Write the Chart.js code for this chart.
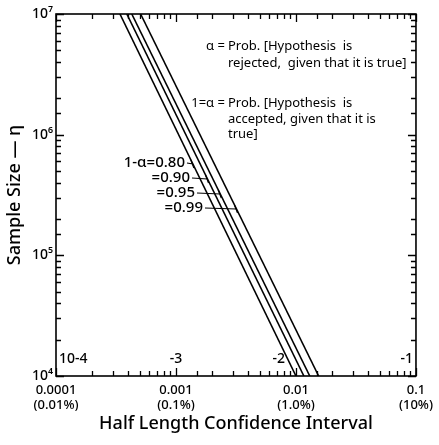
<!DOCTYPE html>
<html>
<head>
<meta charset="utf-8">
<script src="https://cdn.jsdelivr.net/npm/chart.js@4.4.1/dist/chart.umd.min.js"></script>
<style>
  html, body { margin: 0; padding: 0; background: #fff; }
  #wrap { width: 439px; height: 445px; position: relative; }
</style>
</head>
<body>
<div id="wrap"><canvas id="chart"></canvas></div>
<script>
/* Sample size vs half length of confidence interval, log-log */

const sampleSizes = [1e7, 1e4];
const half080 = [0.000341, 0.0100];
const half090 = [0.000389, 0.01164];
const half095 = [0.000428, 0.01303];
const half099 = [0.000507, 0.01545];

const confLabels = ['1-α=0.80', '=0.90', '=0.95', '=0.99'];

const xTickValues = [0.0001, 0.001, 0.01, 0.1];
const xTickLabels = [['0.0001', '(0.01%)'], ['0.001', '(0.1%)'], ['0.01', '(1.0%)'], ['0.1', '(10%)']];
const xExpLabels = ['10-4', '-3', '-2', '-1'];

const yTickValues = [1e4, 1e5, 1e6, 1e7];
const yTickLabels = ['10⁴', '10⁵', '10⁶', '10⁷'];

const FONT = '"Noto Sans", "DejaVu Sans", sans-serif';

function isDecade(v) {
  const l = Math.log10(v);
  return Math.abs(l - Math.round(l)) < 1e-6;
}

function findLabel(values, labels, v) {
  const i = values.findIndex(t => Math.abs(Math.log10(t) - Math.log10(v)) < 1e-6);
  return i >= 0 ? labels[i] : '';
}

function series(xs) {
  return xs.map((x, i) => ({ x: x, y: sampleSizes[i] }));
}

const seriesList = [half080, half090, half095, half099];

/* ticks inside the frame, on all four sides */
const frameTicks = {
  id: 'frameTicks',
  afterDraw(chart) {
    const { ctx, chartArea: a } = chart;
    const xs = chart.scales.x, ys = chart.scales.y;
    ctx.save();
    ctx.strokeStyle = '#000';
    ctx.lineWidth = 1.6;
    ctx.strokeRect(a.left, a.top, a.right - a.left, a.bottom - a.top);
    ctx.lineWidth = 1.3;
    ctx.beginPath();
    xs.ticks.forEach(t => {
      const px = Math.round(xs.getPixelForValue(t.value)) + 0.5;
      const len = isDecade(t.value) ? 8 : 5;
      ctx.moveTo(px, a.bottom); ctx.lineTo(px, a.bottom - len);
      ctx.moveTo(px, a.top); ctx.lineTo(px, a.top + len);
    });
    ys.ticks.forEach(t => {
      const py = Math.round(ys.getPixelForValue(t.value)) + 0.5;
      const len = isDecade(t.value) ? 8 : 5;
      ctx.moveTo(a.left, py); ctx.lineTo(a.left + len, py);
      ctx.moveTo(a.right, py); ctx.lineTo(a.right - len, py);
    });
    ctx.stroke();
    ctx.restore();
  }
};

/* text notes inside the plot */
const notes = {
  id: 'notes',
  afterDraw(chart) {
    const { ctx, chartArea: a } = chart;
    const xs = chart.scales.x;
    ctx.save();
    ctx.fillStyle = '#000';
    ctx.strokeStyle = '#000';
    ctx.textBaseline = 'middle';

    // decade exponents along the bottom
    ctx.font = '500 14px ' + FONT;
    xTickValues.forEach((v, i) => {
      const px = xs.getPixelForValue(v);
      if (i === 0) { ctx.textAlign = 'left'; ctx.fillText(xExpLabels[i], px + 3, a.bottom - 17); }
      else if (i === xTickValues.length - 1) { ctx.textAlign = 'right'; ctx.fillText(xExpLabels[i], px - 3, a.bottom - 17); }
      else if (i === 2) { ctx.textAlign = 'right'; ctx.fillText(xExpLabels[i], px - 11, a.bottom - 17); }
      else { ctx.textAlign = 'center'; ctx.fillText(xExpLabels[i], px, a.bottom - 17); }
    });

    // definitions
    ctx.font = '13px ' + FONT;
    ctx.textAlign = 'right';
    ctx.fillText('α =', 225, 46);
    ctx.fillText('1=α =', 225, 103);
    ctx.textAlign = 'left';
    ctx.fillText('Prob. [Hypothesis  is', 228, 46);
    ctx.fillText('rejected,  given that it is true]', 228, 63);
    ctx.fillText('Prob. [Hypothesis  is', 228, 103);
    ctx.fillText('accepted, given that it is', 228, 119);
    ctx.fillText('true]', 228, 134);

    // confidence level labels with leaders
    const labelPos = [[185, 163], [190, 178], [195, 193], [203, 208]];
    ctx.lineWidth = 1.2;
    seriesList.forEach((s, i) => {
      const pts = chart.getDatasetMeta(i).data;
      const [ex, ey] = labelPos[i];
      const ty = ey + 1;
      const p0 = pts[0], p1 = pts[1];
      const tx = p0.x + (p1.x - p0.x) * (ty - p0.y) / (p1.y - p0.y);
      ctx.textAlign = 'right';
      ctx.font = '500 15px ' + FONT;
      ctx.fillText(confLabels[i], ex, ey);
      ctx.beginPath();
      ctx.moveTo(ex + 2, ey);
      ctx.lineTo(tx, ty);
      ctx.moveTo(tx - 2, ty - 4);
      ctx.lineTo(tx + 1, ty + 4);
      ctx.stroke();
    });
    ctx.restore();
  }
};

const lineStyle = {
  showLine: true,
  borderColor: '#000',
  borderWidth: 1.6,
  pointRadius: 0,
  fill: false,
};

new Chart(document.getElementById('chart'), {
  type: 'scatter',
  data: {
    datasets: seriesList.map((s, i) => Object.assign({ label: confLabels[i], data: series(s) }, lineStyle)),
  },
  options: {
    responsive: true,
    maintainAspectRatio: false,
    animation: false,
    layout: { padding: { top: 14, right: 17, left: 0, bottom: 0 } },
    plugins: { legend: { display: false }, tooltip: { enabled: false } },
    scales: {
      x: {
        type: 'logarithmic',
        min: 0.0001,
        max: 0.1,
        grid: { display: false, drawTicks: false },
        border: { display: false },
        ticks: {
          autoSkip: false,
          maxRotation: 0,
          padding: 6,
          color: '#000',
          font: { family: FONT, size: 13, weight: '500' },
          callback: (v) => isDecade(v) ? findLabel(xTickValues, xTickLabels, v) : '',
        },
        title: {
          display: true,
          text: 'Half Length Confidence Interval',
          color: '#000',
          font: { family: FONT, size: 18, weight: '500' },
          padding: { top: 0, bottom: 10 },
        },
        afterFit: (scale) => { scale.height = 69; },
      },
      y: {
        type: 'logarithmic',
        min: 1e4,
        max: 1e7,
        grid: { display: false, drawTicks: false },
        border: { display: false },
        ticks: {
          autoSkip: false,
          padding: 3,
          color: '#000',
          font: { family: FONT, size: 14, weight: '500' },
          callback: (v) => isDecade(v) ? findLabel(yTickValues, yTickLabels, v) : '',
        },
        title: {
          display: true,
          text: 'Sample Size — η',
          color: '#000',
          font: { family: FONT, size: 18, weight: '500' },
          padding: { top: 4, bottom: 0 },
        },
        afterFit: (scale) => { scale.width = 56; },
      },
    },
  },
  plugins: [frameTicks, notes],
});
</script>
</body>
</html>
